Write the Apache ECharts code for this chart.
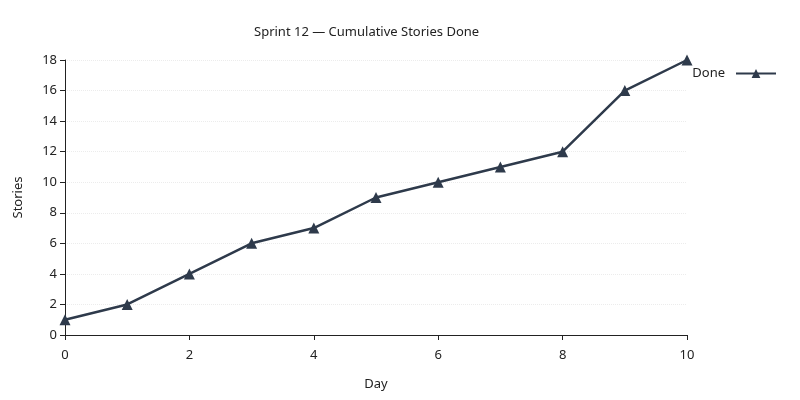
<!DOCTYPE html>
<html>
<head>
<meta charset="utf-8">
<script src="https://cdn.jsdelivr.net/npm/echarts@6/dist/echarts.min.js"></script>
<style>html,body{margin:0;padding:0;background:#fff}#chart{width:800px;height:400px}</style>
</head>
<body>
<div id="chart"></div>
<script>
const days = [0, 1, 2, 3, 4, 5, 6, 7, 8, 9, 10];
const done = [1, 2, 4, 6, 7, 9, 10, 11, 12, 16, 18];

const chart = echarts.init(document.getElementById('chart'));
const font = 'Noto Sans';
const ink = '#2e3a4b';

chart.setOption({
    animation: false,
    textStyle: {fontFamily: font},
    title: {
        text: 'Sprint 12 — Cumulative Stories Done',
        left: 249,
        top: 21,
        textStyle: {fontSize: 13, fontWeight: 'normal', color: '#222', fontFamily: font}
    },
    legend: {
        right: 18,
        top: 62,
        align: 'right',
        itemWidth: 40,
        itemHeight: 11,
        textStyle: {fontSize: 13, color: '#222', padding: [0, 6, 0, 0]},
        data: ['Done']
    },
    grid: {left: 65, right: 113, top: 60, bottom: 65},
    xAxis: {
        type: 'value',
        min: 0, max: 10, interval: 2,
        name: 'Day',
        nameLocation: 'middle',
        nameGap: 43,
        nameTextStyle: {fontSize: 13, color: '#222'},
        axisLine: {show: true, lineStyle: {color: '#222'}},
        axisTick: {show: true, length: 5, lineStyle: {color: '#222'}},
        axisLabel: {fontSize: 13, color: '#222', margin: 14},
        splitLine: {show: false}
    },
    yAxis: {
        type: 'value',
        min: 0, max: 18, interval: 2,
        name: 'Stories',
        nameLocation: 'middle',
        nameGap: 40,
        nameRotate: 90,
        nameTextStyle: {fontSize: 13, color: '#222'},
        axisLine: {show: true, lineStyle: {color: '#222'}},
        axisTick: {show: true, length: 5, lineStyle: {color: '#222'}},
        axisLabel: {fontSize: 13, color: '#222'},
        splitLine: {show: true, lineStyle: {color: '#ececec', type: 'dotted'}}
    },
    series: [{
        name: 'Done',
        type: 'line',
        data: days.map((d, i) => [d, done[i]]),
        symbol: 'triangle',
        symbolSize: 11,
        lineStyle: {color: ink, width: 2.5},
        itemStyle: {color: ink}
    }]
});
</script>
</body>
</html>
